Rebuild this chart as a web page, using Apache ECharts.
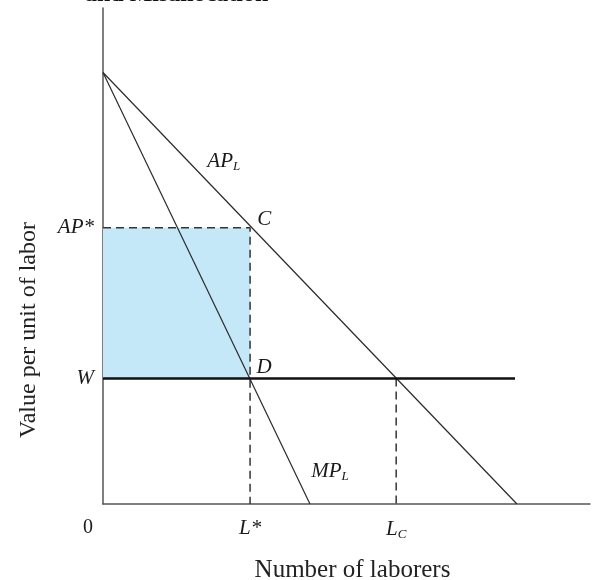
<!DOCTYPE html>
<html>
<head>
<meta charset="utf-8">
<script src="https://cdn.jsdelivr.net/npm/echarts@6/dist/echarts.min.js"></script>
<style>
html, body { margin: 0; padding: 0; background: #fff; }
#chart { width: 598px; height: 580px; }
</style>
</head>
<body>
<div id="chart"></div>
<script>
// axis units 0..100
var apL = [[0, 87], [85, 0]];
var mpL = [[0, 87], [42.5, 0]];
var wage = 25.3;
var wageEnd = 84.6;
var apStar = 55.7;
var lStar = 30.2;
var lC = 60.2;
var xTicks = [0, lStar, lC];
var yTicks = [wage, apStar];
var pointLabels = [
	{ name: '{i|AP}{s|L}', value: [24.8, 69] },
	{ name: '{i|C}', value: [33.1, 57.3] },
	{ name: '{i|D}', value: [33.1, 27.6] },
	{ name: '{i|MP}{s|L}', value: [46.6, 6.6] }
];

var serif = '"Liberation Serif", "DejaVu Serif", serif';
var ink = '#2a2a2a';
var rich = {
	i: { fontFamily: serif, fontStyle: 'italic', fontSize: 21, color: '#1a1a1a' },
	s: { fontFamily: serif, fontStyle: 'italic', fontSize: 13, color: '#1a1a1a', padding: [10, 0, 0, 0] },
	z: { fontFamily: serif, fontSize: 20, color: '#1a1a1a', padding: [0, 30, 0, 0] }
};

var myChart = echarts.init(document.getElementById('chart'));

option = {
	animation: false,
	grid: { left: 103, right: 8, top: 8, bottom: 76, containLabel: false, outerBoundsMode: 'none' },
	graphic: [
		{
			type: 'text', left: 85, top: -17,
			style: { text: 'and Misallocation', fontFamily: serif, fontWeight: 'bold', fontSize: 24, fill: '#111' }
		},
		{
			type: 'text', x: 29, y: 330, rotation: Math.PI / 2,
			style: { text: 'Value per unit of labor', fontFamily: serif, fontSize: 24, fill: '#222', align: 'center', verticalAlign: 'middle' }
		}
	],
	xAxis: {
		type: 'value', min: 0, max: 100,
		name: 'Number of laborers', nameLocation: 'middle', nameGap: 54,
		nameTextStyle: { fontFamily: serif, fontSize: 25, color: '#222', padding: [0, 0, 0, 12] },
		axisLine: { show: true, lineStyle: { color: '#555', width: 1.5 } },
		axisTick: { show: false },
		splitLine: { show: false },
		axisLabel: {
			customValues: xTicks, margin: 14, rich: rich, color: '#1a1a1a',
			formatter: function (v) {
				if (v === 0) return '{z|0}';
				if (v === lStar) return '{i|L*}';
				return '{i|L}{s|C}';
			}
		}
	},
	yAxis: {
		type: 'value', min: 0, max: 100,
		axisLine: { show: true, lineStyle: { color: '#555', width: 1.5 } },
		axisTick: { show: false },
		splitLine: { show: false },
		axisLabel: {
			customValues: yTicks, margin: 9, rich: rich, color: '#1a1a1a',
			formatter: function (v) {
				return v === apStar ? '{i|AP*}' : '{i|W}';
			}
		}
	},
	series: [
		{
			type: 'line', data: [], silent: true,
			markArea: {
				silent: true,
				itemStyle: { color: '#c5e8f8' },
				data: [[{ coord: [0, wage] }, { coord: [lStar, apStar] }]]
			}
		},
		{
			name: 'dashed', type: 'line', symbol: 'none',
			data: [[0, apStar], [lStar, apStar], [lStar, 0]],
			lineStyle: { color: '#333', width: 1.5, type: [8, 5] }
		},
		{
			name: 'dashedC', type: 'line', symbol: 'none',
			data: [[lC, wage], [lC, 0]],
			lineStyle: { color: '#333', width: 1.5, type: [8, 5] }
		},
		{
			name: 'AP', type: 'line', symbol: 'none', data: apL,
			lineStyle: { color: ink, width: 1.2 }
		},
		{
			name: 'MP', type: 'line', symbol: 'none', data: mpL,
			lineStyle: { color: ink, width: 1.2 }
		},
		{
			name: 'W', type: 'line', symbol: 'none', data: [[0, wage], [wageEnd, wage]],
			lineStyle: { color: '#111', width: 2.5 }
		},
		{
			type: 'scatter', symbolSize: 0, data: pointLabels,
			itemStyle: { opacity: 1 },
			label: {
				show: true, position: 'inside', rich: rich, color: '#1a1a1a',
				formatter: function (p) { return p.name; }
			}
		}
	]
};
myChart.setOption(option, true);
</script>
</body>
</html>
